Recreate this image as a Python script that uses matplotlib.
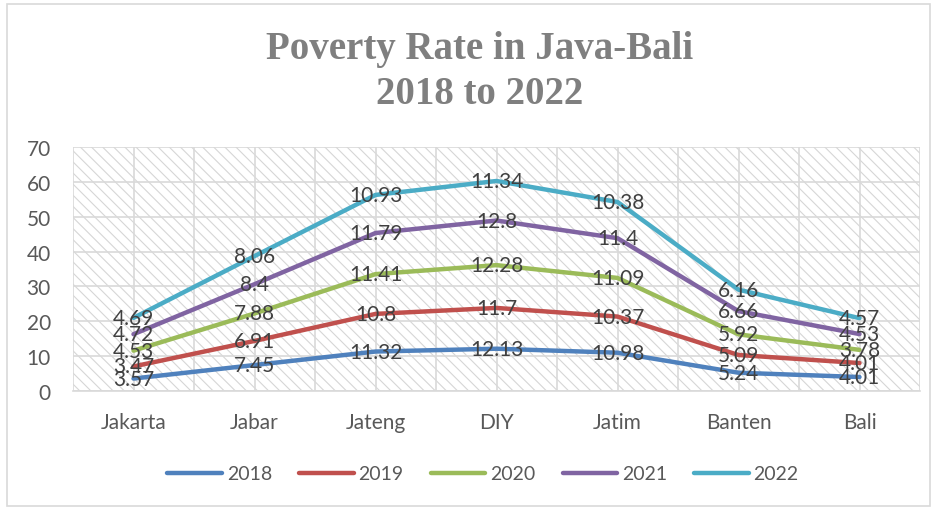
import matplotlib
matplotlib.use("Agg")
import matplotlib.pyplot as plt
from matplotlib.patches import Rectangle
import numpy as np

categories = ["Jakarta", "Jabar", "Jateng", "DIY", "Jatim", "Banten", "Bali"]
years = ["2018", "2019", "2020", "2021", "2022"]
v2018 = [3.57, 7.45, 11.32, 12.13, 10.98, 5.24, 4.01]
v2019 = [3.47, 6.91, 10.8, 11.7, 10.37, 5.09, 4.01]
v2020 = [4.53, 7.88, 11.41, 12.28, 11.09, 5.92, 3.78]
v2021 = [4.72, 8.4, 11.79, 12.8, 11.4, 6.66, 4.53]
v2022 = [4.69, 8.06, 10.93, 11.34, 10.38, 6.16, 4.57]
series = [v2018, v2019, v2020, v2021, v2022]
colors = ["#4F81BD", "#C0504D", "#9BBB59", "#8064A2", "#4BACC6"]

plt.rcParams['font.family'] = ['Lato', 'DejaVu Sans']
plt.rcParams['hatch.linewidth'] = 0.8

fig = plt.figure(figsize=(9.38, 5.10), dpi=100)
ax = fig.add_axes([73/938, 1-392/510, (920-73)/938, (392-148)/510])

# hatched background
ax.add_patch(Rectangle((0, 0), 1, 1, transform=ax.transAxes, facecolor='white',
                       edgecolor='#d6d6d6', hatch='\\\\\\', linewidth=0, zorder=0))

x = np.arange(len(categories))
cum = np.zeros(len(categories))
for name, vals, c in zip(years, series, colors):
    cum = cum + np.array(vals)
    ax.plot(x, cum, color=c, lw=3.2, solid_capstyle='round', label=name, zorder=3)
    for xi, yi, v in zip(x, cum, vals):
        ax.text(xi, yi, f"{v:g}", ha='center', va='center', fontsize=15,
                color='#404040', zorder=4)

ax.set_xlim(-0.5, len(categories) - 0.5)
ax.set_ylim(0, 70)
ax.set_yticks(range(0, 71, 10))
ax.set_xticks(x)
ax.set_xticklabels(categories)
ax.set_xticks(np.arange(-0.5, len(categories), 1.0), minor=True)
ax.grid(True, which='both', color='#d9d9d9', lw=1.2, zorder=1)
ax.set_axisbelow(True)
for s in ['top', 'right', 'left']:
    ax.spines[s].set_visible(False)
ax.spines['bottom'].set_color('#d9d9d9')
ax.spines['bottom'].set_linewidth(1.2)
ax.tick_params(axis='both', which='both', length=0, labelsize=15, colors='#595959')
ax.tick_params(axis='x', pad=15)
ax.tick_params(axis='y', pad=16)

fig.text(480/938, 1-50/510, "Poverty Rate in Java-Bali", ha='center', va='center',
         fontsize=28, fontweight='bold', color='#7f7f7f', family='Liberation Serif')
fig.text(480/938, 1-95/510, "2018 to 2022", ha='center', va='center',
         fontsize=28, fontweight='bold', color='#7f7f7f', family='Liberation Serif')

leg = fig.legend(loc='center', bbox_to_anchor=(483/938, 1-475/510), ncol=5,
                 frameon=False, fontsize=14, handlelength=2.8, columnspacing=1.4,
                 handletextpad=0.25, labelcolor='#595959')

fig.add_artist(Rectangle((7/938, 3/510), 923/938, 502/510, transform=fig.transFigure,
                         fill=False, edgecolor='#d9d9d9', lw=1.2))

fig.savefig("out.png", dpi=100)
